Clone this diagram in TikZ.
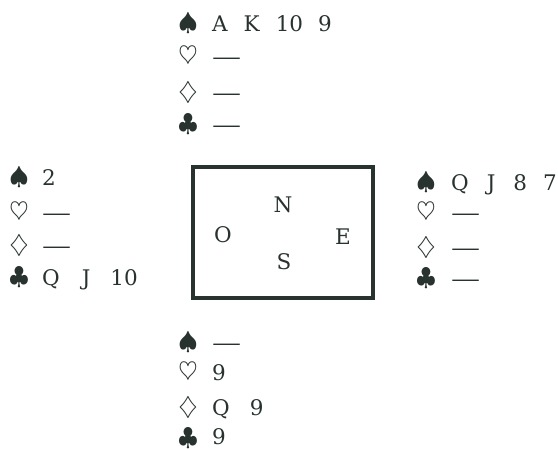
\documentclass[tikz,border=0pt]{standalone}
\usepackage{fontspec}
\usepackage{graphicx}
\newfontfamily\cardfont{DejaVu Serif}
\definecolor{ink}{RGB}{40,50,46}
\newcommand{\nodash}{\scalebox{1.35}[1]{—}}
\tikzset{
  suit/.style={inner sep=0pt, text=ink, font=\fontsize{24}{28}\selectfont},
  cards/.style={inner sep=0pt, anchor=base west, text=ink, font=\cardfont\fontsize{21.5}{25}\selectfont},
  seat/.style={inner sep=0pt, text=ink, font=\cardfont\fontsize{21.5}{25}\selectfont},
  tablebox/.style={draw=ink, line width=4pt, minimum width=180pt, minimum height=131pt, inner sep=0pt}
}
\begin{document}
\begin{tikzpicture}[x=1pt,y=-1pt]
\useasboundingbox (0,0) rectangle (558,449);
% North
\node[suit] (ns) at (188,23) {$\spadesuit$};
\node[suit] (nh) at (188,56) {$\heartsuit$};
\node[suit] (nd) at (188,92) {$\diamondsuit$};
\node[suit] (nc) at (188,124) {$\clubsuit$};
\node[cards] (nst) at (212,32) {A\hspace{16pt}K\hspace{16pt}10\hspace{15pt}9};
\node[cards] (nht) at (212,65) {\nodash};
\node[cards] (ndt) at (212,101) {\nodash};
\node[cards] (nct) at (212,133) {\nodash};
% West
\node[suit] (ws) at (19,177) {$\spadesuit$};
\node[suit] (wh) at (19,212) {$\heartsuit$};
\node[suit] (wd) at (19,245) {$\diamondsuit$};
\node[suit] (wc) at (19,277) {$\clubsuit$};
\node[cards] (wst) at (42,186) {2};
\node[cards] (wht) at (42,221) {\nodash};
\node[cards] (wdt) at (42,254) {\nodash};
\node[cards] (wct) at (42,286) {Q\hspace{22pt}J\hspace{20pt}10};
% East
\node[suit] (es) at (426,182) {$\spadesuit$};
\node[suit] (eh) at (426,212) {$\heartsuit$};
\node[suit] (ed) at (426,247) {$\diamondsuit$};
\node[suit] (ec) at (426,278) {$\clubsuit$};
\node[cards] (est) at (451,191) {Q\hspace{18pt}J\hspace{18pt}8\hspace{16pt}7};
\node[cards] (eht) at (451,221) {\nodash};
\node[cards] (edt) at (451,256) {\nodash};
\node[cards] (ect) at (451,287) {\nodash};
% South
\node[suit] (ss) at (188,342) {$\spadesuit$};
\node[suit] (sh) at (188,372) {$\heartsuit$};
\node[suit] (sd) at (188,407) {$\diamondsuit$};
\node[suit] (sc) at (188,438) {$\clubsuit$};
\node[cards] (sst) at (212,351) {\nodash};
\node[cards] (sht) at (212,381) {9};
\node[cards] (sdt) at (212,416) {Q\hspace{20pt}9};
\node[cards] (sct) at (212,445) {9};
% Table
\node[tablebox] (table) at (283,232.5) {};
\node[seat] (north) at (283,205) {N};
\node[seat] (west) at (223,235) {O};
\node[seat] (east) at (343,237) {E};
\node[seat] (south) at (284,262) {S};
\end{tikzpicture}
\end{document}
